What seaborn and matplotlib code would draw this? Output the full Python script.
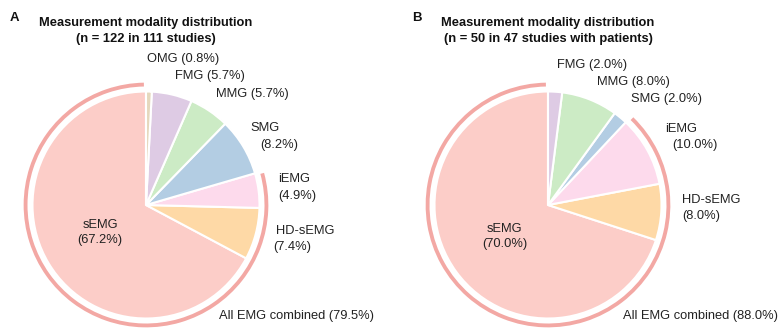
import numpy as np
import matplotlib
matplotlib.use("Agg")
import matplotlib.pyplot as plt
from matplotlib.patches import Wedge
import seaborn as sns

sns.set_theme(style="white")
plt.rcParams['font.family'] = ['Liberation Sans', 'DejaVu Sans']

# ---- data ----
modalities = ["sEMG", "HD-sEMG", "iEMG", "SMG", "MMG", "FMG", "OMG"]
emg_modalities = ["sEMG", "HD-sEMG", "iEMG"]

counts_all = [82, 9, 6, 10, 7, 7, 1]        # n = 122
counts_patients = [35, 4, 5, 1, 4, 1, 0]    # n = 50

titles = [
    "Measurement modality distribution\n(n = 122 in 111 studies)",
    "Measurement modality distribution\n(n = 50 in 47 studies with patients)",
]
panel_letters = ["A", "B"]

# ---- colours (Pastel1) ----
pastel = sns.color_palette("Pastel1", 9)
mod_colors = {
    "sEMG": "#fccdc8",
    "HD-sEMG": pastel[4],
    "iEMG": pastel[7],
    "SMG": pastel[1],
    "MMG": pastel[2],
    "FMG": pastel[3],
    "OMG": pastel[6],
}
arc_color = "#f3a8a4"

# ---- layout (pixels, relative to pie centre, y up) ----
W, H = 779, 331
R = 113.5
centres = [(146, 205), (548, 205)]
ax_spans = [(0, 389), (389, 779)]
letter_x = [14.5, 417]

# per-panel label placement: name line (x, y), pct line (x, y) or None if one line
label_layout = [
    {
        "OMG": ((1, 146), None),
        "FMG": ((29, 129), None),
        "MMG": ((70, 111), None),
        "SMG": ((104, 77), (114, 60)),
        "iEMG": ((132, 26), (132, 9)),
        "HD-sEMG": ((130, -26), (127, -42)),
    },
    {
        "FMG": ((9, 140), None),
        "MMG": ((49, 123), None),
        "SMG": ((83, 106), None),
        "iEMG": ((117, 76), (124, 60)),
        "HD-sEMG": ((134, 5), (134, -11)),
    },
]
combined_pos = [(73, -111), (75, -111)]

fig = plt.figure(figsize=(W / 100, H / 100), dpi=100)
fs = 9.3

for i, counts in enumerate([counts_all, counts_patients]):
    x0, x1 = ax_spans[i]
    cx, cy = centres[i]
    ax = fig.add_axes([x0 / W, 0, (x1 - x0) / W, 1])

    names = [m for m, c in zip(modalities, counts) if c > 0]
    vals = np.array([c for c in counts if c > 0], dtype=float)
    total = vals.sum()
    pcts = vals / total * 100

    wedges, _ = ax.pie(
        vals,
        colors=[mod_colors[m] for m in names],
        startangle=90,
        counterclock=True,
        radius=1,
        wedgeprops=dict(edgecolor="white", linewidth=1.5),
    )

    # outer arc around all EMG slices
    emg_frac = sum(v for m, v in zip(names, vals) if m in emg_modalities) / total
    gap = 1.0
    ax.add_patch(Wedge((0, 0), 1.078, 90 + gap, 90 + 360 * emg_frac - gap,
                       width=0.034, facecolor=arc_color, edgecolor="none"))

    # labels
    for m, p, w in zip(names, pcts, wedges):
        if m == "sEMG":
            ang = np.deg2rad((w.theta1 + w.theta2) / 2)
            ax.text(0.47 * np.cos(ang), 0.47 * np.sin(ang), f"{m}\n({p:.1f}%)",
                    ha="center", va="center", fontsize=fs, linespacing=1.3,
                    color="#222222")
            continue
        (nx, ny), pct_pos = label_layout[i][m]
        if pct_pos is None:
            ax.text(nx / R, ny / R, f"{m} ({p:.1f}%)", ha="left", va="center",
                    fontsize=fs, color="#222222")
        else:
            ax.text(nx / R, ny / R, m, ha="left", va="center", fontsize=fs,
                    color="#222222")
            ax.text(pct_pos[0] / R, pct_pos[1] / R, f"({p:.1f}%)", ha="left",
                    va="center", fontsize=fs, color="#222222")

    ax.text(combined_pos[i][0] / R, combined_pos[i][1] / R,
            f"All EMG combined ({emg_frac * 100:.1f}%)",
            ha="left", va="center", fontsize=fs, color="#222222")

    # title and panel letter
    ax.text(0, (cy - 31) / R, titles[i], ha="center", va="center",
            fontsize=fs, fontweight="bold", linespacing=1.38, color="#111111")
    ax.text((letter_x[i] - cx) / R, (cy - 18) / R,
            panel_letters[i], ha="center", va="center", fontsize=9.5,
            fontweight="bold", color="#111111")

    ax.set_xlim((x0 - cx) / R, (x1 - cx) / R)
    ax.set_ylim((cy - H) / R, cy / R)
    ax.set_aspect("auto")
    ax.axis("off")

fig.savefig("out.png", dpi=100, facecolor="white")
